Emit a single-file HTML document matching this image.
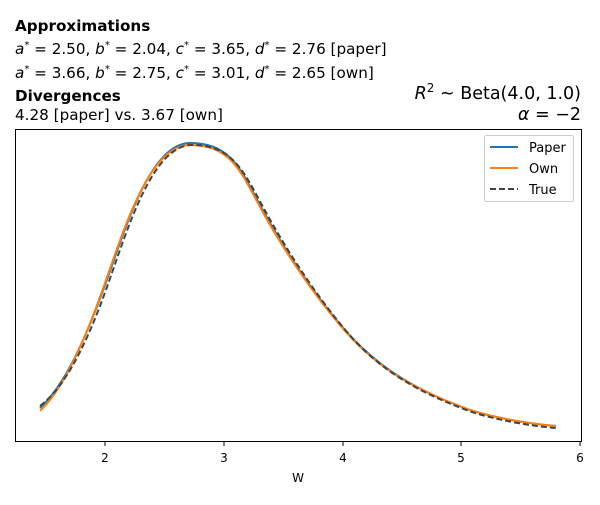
<!DOCTYPE html>
<html><head><meta charset="utf-8"><style>
body{margin:0;background:#fff;}
svg{font-family:"DejaVu Sans","Liberation Sans",sans-serif;}
</style></head><body>
<svg width="600" height="500" viewBox="0 0 600 500" xmlns="http://www.w3.org/2000/svg">
<rect width="600" height="500" fill="#fff"/>
<text x="15" y="31" font-size="15.2" font-weight="bold">Approximations</text>
<text x="15" y="54" font-size="15.2"><tspan font-style="italic">a</tspan><tspan dy="-6" font-size="10">*</tspan><tspan dy="6"> = 2.50, </tspan><tspan font-style="italic">b</tspan><tspan dy="-6" font-size="10">*</tspan><tspan dy="6"> = 2.04, </tspan><tspan font-style="italic">c</tspan><tspan dy="-6" font-size="10">*</tspan><tspan dy="6"> = 3.65, </tspan><tspan font-style="italic">d</tspan><tspan dy="-6" font-size="10">*</tspan><tspan dy="6"> = 2.76 [paper]</tspan></text>
<text x="15" y="78" font-size="15.2"><tspan font-style="italic">a</tspan><tspan dy="-6" font-size="10">*</tspan><tspan dy="6"> = 3.66, </tspan><tspan font-style="italic">b</tspan><tspan dy="-6" font-size="10">*</tspan><tspan dy="6"> = 2.75, </tspan><tspan font-style="italic">c</tspan><tspan dy="-6" font-size="10">*</tspan><tspan dy="6"> = 3.01, </tspan><tspan font-style="italic">d</tspan><tspan dy="-6" font-size="10">*</tspan><tspan dy="6"> = 2.65 [own]</tspan></text>
<text x="15" y="101" font-size="15.2" font-weight="bold">Divergences</text>
<text x="15" y="120" font-size="15.2">4.28 [paper] vs. 3.67 [own]</text>
<text x="581" y="99" font-size="17.5" text-anchor="end"><tspan font-style="italic">R</tspan><tspan dy="-7" font-size="12">2</tspan><tspan dy="7"> ~  Beta(4.0, 1.0)</tspan></text>
<text x="581" y="120" font-size="17.5" text-anchor="end"><tspan font-style="italic">α</tspan> = −2</text>
<rect x="15.5" y="129.5" width="566" height="312" fill="none" stroke="#000" stroke-width="1"/>
<g stroke="#000"><line x1="105" y1="442" x2="105" y2="446"/><line x1="224" y1="442" x2="224" y2="446"/><line x1="343" y1="442" x2="343" y2="446"/><line x1="461" y1="442" x2="461" y2="446"/><line x1="580" y1="442" x2="580" y2="446"/></g>
<g font-size="12" text-anchor="middle"><text x="105" y="462">2</text><text x="224" y="462">3</text><text x="343" y="462">4</text><text x="461" y="462">5</text><text x="580" y="462">6</text><text x="298" y="482">W</text></g>
<path d="M40,408 C65,385 85,340 105,285 S150,143 190,143 S240,168 260,205 S310,290 345,330 S420,392 470,410 C495,418 530,424 556,426" fill="none" stroke="#1f77b4" stroke-width="2"/>
<path d="M40,411 C65,387 85,340 105,283 S150,145 190,145 S240,170 260,207 S310,291 345,331 S420,392 470,410 C495,418 530,424 556,426" fill="none" stroke="#ff7f0e" stroke-width="2"/>
<path d="M40,406 C66,386 87,343 107,287 S152,145 192,145 S243,170 263,207 S313,292 347,332 S422,394 472,412 C497,420 530,426 556,428" fill="none" stroke="#444" stroke-width="2" stroke-dasharray="6,3"/>
<rect x="484.5" y="135.5" width="89" height="66" fill="#fff" stroke="#ccc" rx="2"/>
<line x1="490" y1="147" x2="518" y2="147" stroke="#1f77b4" stroke-width="2"/>
<line x1="490" y1="168" x2="518" y2="168" stroke="#ff7f0e" stroke-width="2"/>
<line x1="490" y1="189" x2="518" y2="189" stroke="#444" stroke-width="2" stroke-dasharray="6,3"/>
<g font-size="13"><text x="529" y="152">Paper</text><text x="529" y="173">Own</text><text x="529" y="194">True</text></g>
</svg>
</body></html>
